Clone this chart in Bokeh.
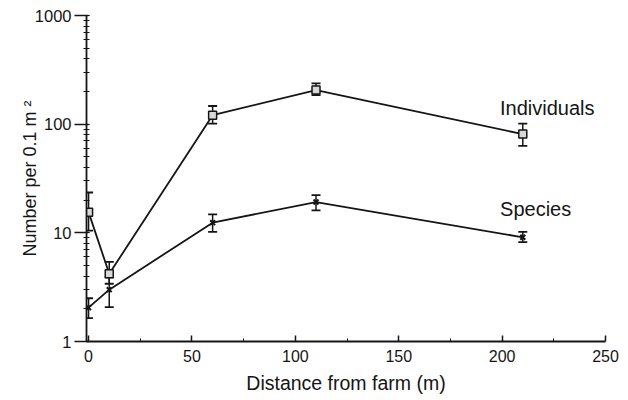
from bokeh.plotting import figure
from bokeh.models import (Range1d, Whisker, TeeHead, ColumnDataSource, Label,
                          FixedTicker, LogTicker, PrintfTickFormatter)
from bokeh.embed import file_html
from bokeh.resources import INLINE

# Data
distance = [0, 10, 60, 110, 210]
individuals = [15.5, 4.2, 121, 206, 81]
ind_upper = [23.5, 5.4, 147, 237, 101]
ind_lower = [10.5, 3.4, 101, 185, 63]
species = [2.05, 3.0, 12.4, 19.2, 9.1]
sp_upper = [2.5, 3.9, 14.8, 22.2, 10.2]
sp_lower = [1.64, 2.07, 10.2, 16.1, 8.2]
x_ticks = [0, 50, 100, 150, 200, 250]
y_ticks = [1, 10, 100, 1000]
series_labels = ["Individuals", "Species"]

FONT = "Liberation Sans"
INK = "#151515"

p = figure(width=628, height=400, y_axis_type="log",
           x_range=Range1d(-1, 250), y_range=Range1d(1, 1000),
           output_backend="svg", toolbar_location=None,
           min_border_left=86, min_border_right=23,
           min_border_top=15, min_border_bottom=59)
p.outline_line_color = None
p.xgrid.visible = False
p.ygrid.visible = False
p.background_fill_color = "white"
p.border_fill_color = "white"

# x axis
xa = p.xaxis[0]
xa.ticker = FixedTicker(ticks=x_ticks, minor_ticks=[25, 75, 125, 175, 225])
xa.axis_line_color = INK
xa.axis_line_width = 1.8
xa.major_tick_in = 6
xa.major_tick_out = 0
xa.minor_tick_in = 3
xa.minor_tick_out = 0
xa.major_tick_line_color = INK
xa.minor_tick_line_color = INK
xa.major_tick_line_width = 1.5
xa.major_label_text_font = FONT
xa.major_label_text_font_size = "16px"
xa.major_label_text_color = INK
xa.major_label_standoff = 8
xa.axis_label = "Distance from farm (m)"
xa.axis_label_text_font = FONT
xa.axis_label_text_font_size = "19.5px"
xa.axis_label_text_font_style = "normal"
xa.axis_label_text_color = INK
xa.axis_label_standoff = 7

# y axis
ya = p.yaxis[0]
ya.ticker = LogTicker(desired_num_ticks=4, num_minor_ticks=10)
ya.formatter = PrintfTickFormatter(format="%d")
ya.axis_line_color = INK
ya.axis_line_width = 1.8
ya.major_tick_in = 2
ya.major_tick_out = 12
ya.minor_tick_in = 3
ya.minor_tick_out = 3
ya.major_tick_line_color = INK
ya.minor_tick_line_color = INK
ya.major_tick_line_width = 1.5
ya.major_label_text_font = FONT
ya.major_label_text_font_size = "16.5px"
ya.major_label_text_color = INK
ya.major_label_standoff = 3
ya.axis_label = "Number per 0.1 m \u00b2"
ya.axis_label_text_font = FONT
ya.axis_label_text_font_size = "18px"
ya.axis_label_text_font_style = "normal"
ya.axis_label_text_color = INK
ya.axis_label_standoff = -8

src_i = ColumnDataSource(dict(x=distance, y=individuals, up=ind_upper, lo=ind_lower))
src_s = ColumnDataSource(dict(x=distance, y=species, up=sp_upper, lo=sp_lower))

p.line("x", "y", source=src_i, line_color=INK, line_width=1.8)
p.line("x", "y", source=src_s, line_color=INK, line_width=1.8)

for src in (src_i, src_s):
    w = Whisker(source=src, base="x", upper="up", lower="lo",
                line_color=INK, line_width=1.5,
                upper_head=TeeHead(size=9, line_color=INK, line_width=1.8),
                lower_head=TeeHead(size=9, line_color=INK, line_width=1.8))
    p.add_layout(w)

p.scatter("x", "y", source=src_i, marker="square", size=8,
          fill_color="#d8d8d8", line_color=INK, line_width=1.5)
p.scatter("x", "y", source=src_s, marker="x", size=7,
          line_color=INK, line_width=2)

# Series labels placed near the end of each series
p.add_layout(Label(x=distance[-1] - 11, y=individuals[-1] * 1.73, text=series_labels[0],
                   text_font=FONT, text_font_size="20px", text_color=INK,
                   text_baseline="alphabetic"))
p.add_layout(Label(x=distance[-1] - 11, y=species[-1] * 1.83, text=series_labels[1],
                   text_font=FONT, text_font_size="20px", text_color=INK,
                   text_baseline="alphabetic"))

open("out.html", "w").write(file_html(p, INLINE))
